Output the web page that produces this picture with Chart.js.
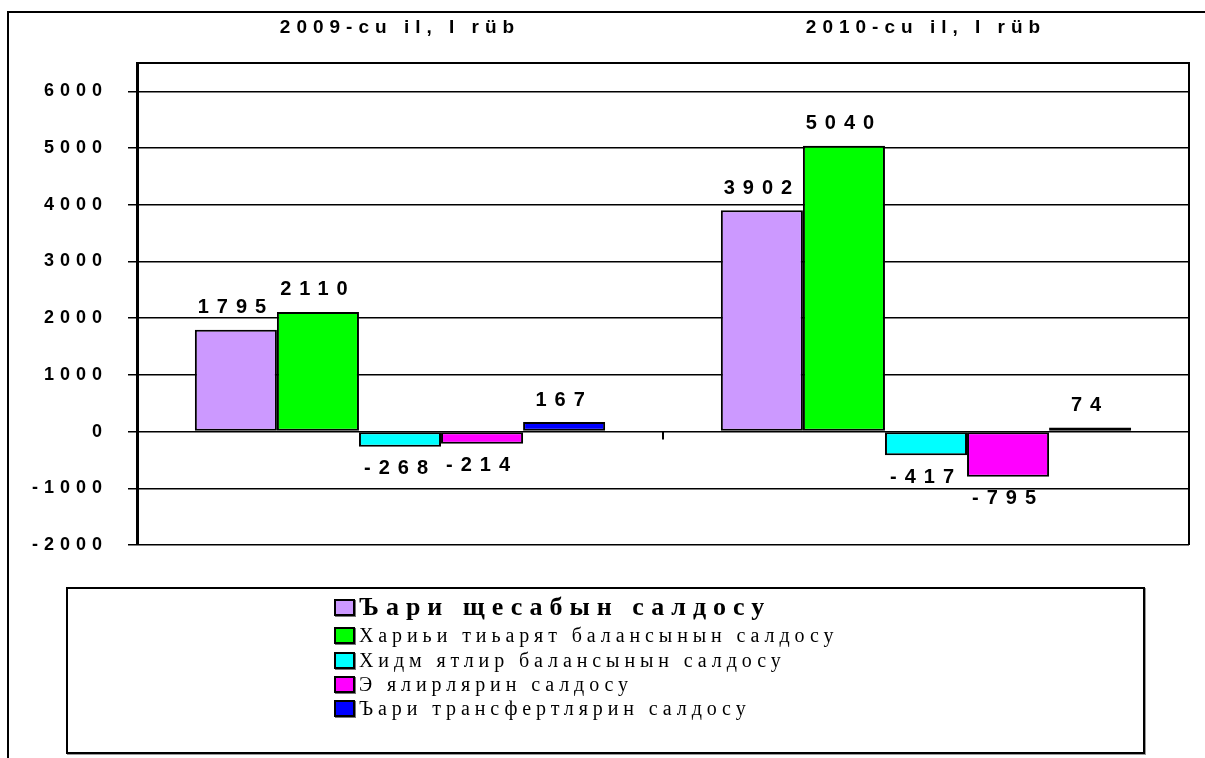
<!DOCTYPE html>
<html>
<head>
<meta charset="utf-8">
<script src="https://cdn.jsdelivr.net/npm/chart.js@4.4.1/dist/chart.umd.min.js"></script>
<style>
  body { margin: 0; background: #fff; width: 1205px; height: 758px; overflow: hidden; position: relative; }
  #frame { position: absolute; left: 7px; top: 11px; width: 1300px; height: 900px; border: 2px solid #000; }
  #wrap { position: absolute; left: 0; top: 0; width: 1205px; height: 758px; }
  #legend {
    position: absolute; left: 66px; top: 587px; width: 1075px; height: 163px;
    border: 2px solid #000; box-shadow: 1px 1px 0 #999; background: #fff;
    font-family: "Liberation Serif", "Times New Roman", serif; color: #000;
  }
  #legend .item { position: absolute; left: 266px; display: flex; align-items: center; white-space: nowrap; }
  #legend .sw { width: 17px; height: 13px; border: 2px solid #000; margin-right: 4px; box-shadow: 1px 1px 0 #777; }
  #legend .txt { font-size: 20px; letter-spacing: 4.9px; }
  #legend .first .txt { font-size: 26px; font-weight: bold; letter-spacing: 7px; }
</style>
</head>
<body>
<div id="frame"></div>
<div id="wrap"><canvas id="myChart" width="1205" height="758"></canvas></div>
<div id="legend"></div>
<script>
// Data
const categories = ["2009-cu il, I rüb", "2010-cu il, I rüb"];
const seriesNames = [
  "Ъари щесабын салдосу",
  "Хариьи тиьарят балансынын салдосу",
  "Хидм ятлир балансынын салдосу",
  "Э ялирлярин салдосу",
  "Ъари трансфертлярин салдосу"
];
const currentAccount = [1795, 3902];
const tradeBalance = [2110, 5040];
const servicesBalance = [-268, -417];
const incomeBalance = [-214, -795];
const transfersBalance = [167, 74];
const yTickValues = [-2000, -1000, 0, 1000, 2000, 3000, 4000, 5000, 6000];

const seriesColors = ["#CC99FF", "#00FF00", "#00FFFF", "#FF00FF", "#0000FF"];
const seriesValues = [currentAccount, tradeBalance, servicesBalance, incomeBalance, transfersBalance];

const datasets = seriesNames.map((name, i) => ({
  label: name,
  data: seriesValues[i],
  backgroundColor: seriesColors[i],
  borderColor: "#000",
  borderWidth: 2,
  borderSkipped: false,
  barPercentage: 1,
  categoryPercentage: 0.78
}));

// bold numbers above / below each bar
const valueLabels = {
  id: "valueLabels",
  afterDatasetsDraw(chart) {
    const ctx = chart.ctx;
    ctx.save();
    ctx.letterSpacing = "8px";
    ctx.font = "bold 20px 'Liberation Sans', Arial, sans-serif";
    ctx.fillStyle = "#000";
    ctx.textAlign = "center";
    ctx.textBaseline = "middle";
    chart.data.datasets.forEach((ds, i) => {
      chart.getDatasetMeta(i).data.forEach((bar, j) => {
        const v = ds.data[j];
        const y = v >= 0 ? bar.y - 22 : bar.y + 22;
        ctx.fillText(String(v), bar.x, y);
      });
    });
    ctx.restore();
  }
};

// plot frame + the category divider tick on the zero line
const plotFrame = {
  id: "plotFrame",
  beforeDraw(chart) {
    chart.ctx.letterSpacing = "6px";
  },
  afterDraw(chart) {
    const { ctx, chartArea: a, scales } = chart;
    ctx.save();
    ctx.strokeStyle = "#000";
    ctx.lineWidth = 2;
    ctx.beginPath();
    ctx.moveTo(a.left, a.top);
    ctx.lineTo(a.right, a.top);
    ctx.lineTo(a.right, a.bottom);
    ctx.stroke();
    const mid = (scales.x.getPixelForValue(0) + scales.x.getPixelForValue(1)) / 2;
    const y0 = scales.y.getPixelForValue(0);
    ctx.beginPath();
    ctx.moveTo(mid, y0);
    ctx.lineTo(mid, y0 + 8);
    ctx.stroke();
    ctx.restore();
  }
};

const config = {
  type: "bar",
  data: { labels: categories, datasets: datasets },
  options: {
    responsive: false,
    animation: false,
    layout: { padding: { left: 0, top: 0, right: 16, bottom: 213 } },
    plugins: {
      legend: { display: false },
      tooltip: { enabled: false }
    },
    scales: {
      x: {
        position: "top",
        grid: { display: false, drawTicks: false },
        border: { display: false },
        ticks: {
          color: "#000",
          padding: 24,
          font: { family: "'Liberation Sans', Arial, sans-serif", size: 19, weight: "bold" }
        },
        afterFit(scale) { scale.height = 63; }
      },
      y: {
        min: -2000,
        max: 6500,
        afterBuildTicks(scale) {
          scale.ticks = yTickValues.map(v => ({ value: v }));
        },
        grid: { color: "#000", lineWidth: 1.5, tickLength: 9 },
        border: { display: true, color: "#000", width: 3 },
        ticks: {
          color: "#000",
          padding: 20,
          font: { family: "'Liberation Sans', Arial, sans-serif", size: 18, weight: "bold" },
          callback: v => String(v)
        },
        afterFit(scale) { scale.width = 137; }
      }
    }
  },
  plugins: [valueLabels, plotFrame]
};

const myChart = new Chart(document.getElementById("myChart"), config);

// legend box below the chart
const legendEl = document.getElementById("legend");
const rowTops = [3, 35, 60, 84, 108];
seriesNames.forEach((name, i) => {
  const item = document.createElement("div");
  item.className = "item" + (i === 0 ? " first" : "");
  item.style.top = rowTops[i] + "px";
  item.innerHTML = `<span class="sw" style="background:${seriesColors[i]}"></span><span class="txt">${name}</span>`;
  legendEl.appendChild(item);
});
</script>
</body>
</html>
